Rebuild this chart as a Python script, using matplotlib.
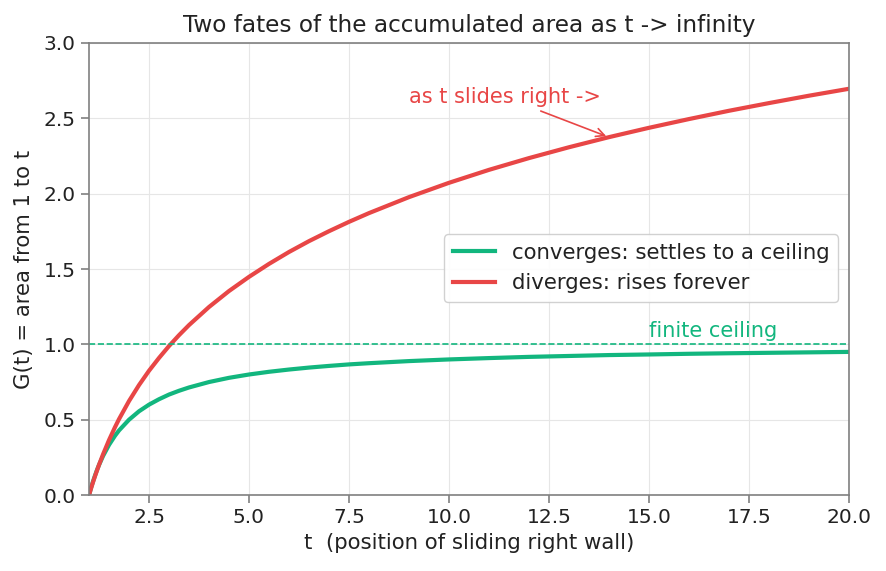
import matplotlib
matplotlib.use("Agg")
import matplotlib.pyplot as plt

# readings
t = [1.0, 1.05, 1.1, 1.15, 1.2, 1.25, 1.35, 1.5, 1.65, 1.75, 2.0, 2.25, 2.5,
     2.75, 3.0, 3.25, 3.5, 4, 4.5, 5, 5.5, 6, 6.5, 7, 7.5, 8, 9,
     10, 11, 12, 13, 14, 15, 16, 17, 18, 19, 20]
conv = [0.0, 0.048, 0.091, 0.130, 0.167, 0.2, 0.259, 0.333, 0.394, 0.429,
        0.5, 0.556, 0.6, 0.636, 0.667, 0.692, 0.714, 0.75, 0.778, 0.8, 0.818,
        0.833, 0.846, 0.857, 0.867, 0.875, 0.889, 0.9, 0.909, 0.917, 0.923,
        0.929, 0.933, 0.9375, 0.941, 0.944, 0.947, 0.95]
div = [0.0, 0.044, 0.086, 0.126, 0.164, 0.201, 0.270, 0.365, 0.451, 0.504,
       0.624, 0.730, 0.825, 0.910, 0.989, 1.061, 1.128, 1.248, 1.354, 1.448,
       1.534, 1.613, 1.685, 1.751, 1.813, 1.871, 1.977, 2.072, 2.158, 2.236,
       2.308, 2.375, 2.437, 2.495, 2.550, 2.601, 2.650, 2.696]
ceiling = 1.0

GREEN = '#12b67e'
RED = '#e84646'

fig = plt.figure(figsize=(8.86, 5.71), dpi=100)
ax = fig.add_axes([0.1005, 0.133, 0.8575, 0.7917])

ax.plot(t, conv, color=GREEN, lw=3, label='converges: settles to a ceiling')
ax.plot(t, div, color=RED, lw=3, label='diverges: rises forever')
ax.axhline(ceiling, color=GREEN, ls='--', lw=1.2)
ax.text(15.0, 1.05, 'finite ceiling', color=GREEN, fontsize=15)
ax.annotate('as t slides right ->', xy=(14, 2.375), xytext=(9.0, 2.6),
            color=RED, fontsize=15,
            arrowprops=dict(arrowstyle='->', color=RED, lw=1.2))

ax.set_xlim(1, 20)
ax.set_ylim(0, 3)
ax.set_xticks([2.5, 5.0, 7.5, 10.0, 12.5, 15.0, 17.5, 20.0])
ax.set_yticks([0, 0.5, 1.0, 1.5, 2.0, 2.5, 3.0])
ax.grid(True, color='#e6e6e6', lw=0.8)
ax.set_axisbelow(True)
for s in ax.spines.values():
    s.set_color('#808080')
    s.set_linewidth(1.2)
ax.tick_params(colors='#808080', labelcolor='#222222', labelsize=14.5,
               length=6, width=1.2)

ax.set_title('Two fates of the accumulated area as t -> infinity',
             fontsize=16.7, color='#222222', pad=8)
ax.set_xlabel('t  (position of sliding right wall)', fontsize=15.3, color='#222222')
ax.set_ylabel('G(t) = area from 1 to t', fontsize=15.3, color='#222222',
              labelpad=7)
ax.legend(loc='center right', bbox_to_anchor=(1.0, 0.502), fontsize=15.3,
          framealpha=0.9, edgecolor='#cccccc', handlelength=2.0,
          labelcolor='#222222')

fig.savefig('out.png', dpi=100)
